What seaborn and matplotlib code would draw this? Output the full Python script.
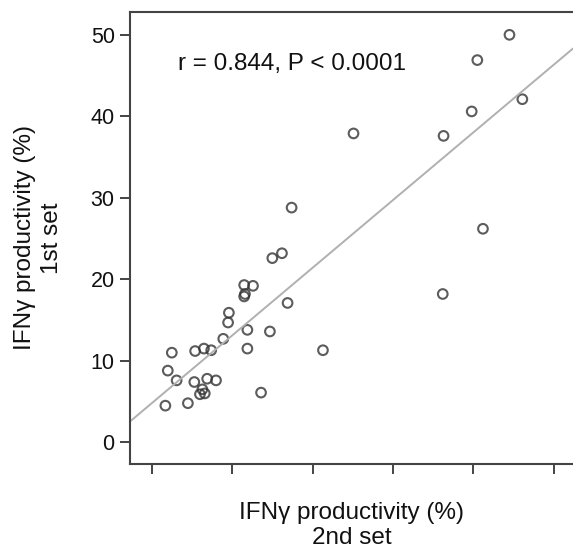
import matplotlib
matplotlib.use("Agg")
import matplotlib.pyplot as plt
import seaborn as sns
import pandas as pd
import numpy as np

# values (IFNγ productivity, %)
second_set = [44.5, 40.5, 46.1, 39.8, 36.3, 25.1, 17.4, 41.2, 16.2, 15.0,
              11.5, 12.6, 11.6, 11.5, 36.2, 16.9, 9.6, 9.5, 8.9, 11.9,
              14.7, 11.9, 21.3, 2.5, 5.4, 6.5, 7.4, 2.0, 3.1, 5.3,
              6.9, 8.0, 6.3, 6.0, 6.6, 13.6, 1.7, 4.5]
first_set = [50.0, 46.9, 42.1, 40.6, 37.6, 37.9, 28.8, 26.2, 23.2, 22.6,
             19.3, 19.2, 18.2, 17.9, 18.2, 17.1, 15.9, 14.7, 12.7, 13.8,
             13.6, 11.5, 11.3, 11.0, 11.2, 11.5, 11.3, 8.8, 7.6, 7.4,
             7.8, 7.6, 6.5, 5.9, 6.0, 6.1, 4.5, 4.8]
y_ticks = [0, 10, 20, 30, 40, 50]
x_ticks = [0, 10, 20, 30, 40, 50]

df = pd.DataFrame({"second": second_set, "first": first_set})

sns.set_style("white")
plt.rcParams["font.family"] = ["Liberation Sans", "DejaVu Sans"]

fig = plt.figure(figsize=(5.73, 5.53), dpi=100)
ax = fig.add_axes([130 / 573, 1 - 464 / 553, 443 / 573, 452 / 553])

# limits first so the fitted line spans the whole axis
ax.set_xlim(-2.7, 52.4)
ax.set_ylim(-2.66, 52.8)

sns.regplot(x="second", y="first", data=df, ax=ax, ci=None, truncate=False,
            scatter_kws=dict(s=48, facecolors="none", edgecolors="#333333", linewidths=1.5),
            line_kws=dict(color="#b0b0b0", lw=1.4))

ax.set_xlim(-2.7, 52.4)
ax.set_ylim(-2.66, 52.8)
ax.set_xticks(x_ticks)
ax.set_xticklabels([])
ax.set_yticks(y_ticks)

for side in ["left", "bottom", "top"]:
    ax.spines[side].set_color("#444444")
    ax.spines[side].set_linewidth(1.5)
ax.spines["right"].set_visible(False)
ax.tick_params(axis="both", direction="out", length=7, width=1.4, color="#444444",
               labelsize=15.5, labelcolor="#111111", bottom=True, left=True, pad=4)

ax.set_xlabel("IFNγ productivity (%)\n2nd set", fontsize=17.5, color="#111111",
              labelpad=16, linespacing=1.2)
ax.set_ylabel("IFNγ productivity (%)\n1st set", fontsize=17.5, color="#111111",
              labelpad=20, linespacing=1.3)

ax.text(3.3, 45.7, "r = 0.844, P < 0.0001", fontsize=17.5, color="#111111", va="baseline")

fig.savefig("out.png", dpi=100)
